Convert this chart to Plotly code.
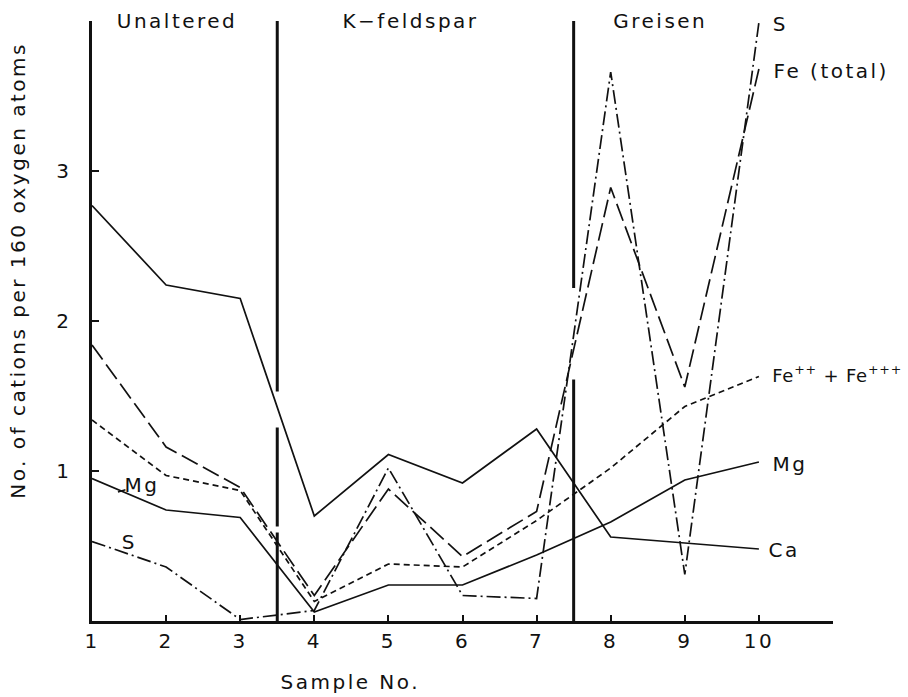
import plotly.graph_objects as go

# ---- data ----
samples = [1, 2, 3, 4, 5, 6, 7, 8, 9, 10]
ca = [2.77, 2.24, 2.15, 0.70, 1.11, 0.92, 1.28, 0.56, 0.52, 0.48]
fe_total = [1.84, 1.16, 0.89, 0.17, 0.88, 0.43, 0.73, 2.89, 1.56, 3.68]
fe_23 = [1.34, 0.97, 0.87, 0.13, 0.38, 0.36, 0.67, 1.02, 1.43, 1.63]
mg = [0.95, 0.74, 0.69, 0.06, 0.24, 0.24, 0.44, 0.66, 0.94, 1.06]
s = [0.53, 0.36, 0.01, 0.07, 1.02, 0.17, 0.15, 3.66, 0.31, 3.99]

x_ticks = [1, 2, 3, 4, 5, 6, 7, 8, 9, 10]
y_ticks = [1, 2, 3]

zone_names = ["Unaltered", "K\u2212feldspar", "Greisen"]
zone_label_x = [2.15, 5.3, 8.67]
divider_x = [3.5, 7.5]
# visible pieces of each divider (y from, y to)
divider_pieces = [
    [(0.0, 0.59), (0.63, 1.29), (1.53, 4.01)],
    [(0.0, 1.61), (2.22, 4.01)],
]

FONT = "DejaVu Sans"
BLACK = "#111111"

# plot-area geometry (pixels) used to place free text in paper coordinates
L, R, T, B, W, H = 92, 75, 21, 76, 908, 697
PW, PH = W - L - R, H - T - B


def px(xp):
    return (xp - L) / PW


def py(yp):
    return (H - B - yp) / PH


fig = go.Figure()

series = [
    ("Ca", ca, "solid"),
    ("Fe (total)", fe_total, "18px,6px"),
    ("Fe++ + Fe+++", fe_23, "6px,4px"),
    ("Mg", mg, "solid"),
    ("S", s, "14px,4px,2px,4px"),
]
for name, vals, dash in series:
    fig.add_trace(go.Scatter(
        x=samples, y=vals, mode="lines", name=name,
        line=dict(color=BLACK, width=1.7, dash=dash),
        showlegend=False, cliponaxis=False,
    ))

shapes = []
for xv, pieces in zip(divider_x, divider_pieces):
    for y0, y1 in pieces:
        shapes.append(dict(type="line", xref="x", yref="y", x0=xv, x1=xv,
                           y0=y0, y1=y1, line=dict(color=BLACK, width=3)))

tf = dict(family=FONT, size=20, color=BLACK)
annotations = []
for name, xv in zip(zone_names, zone_label_x):
    annotations.append(dict(x=xv, y=4.0, xref="x", yref="y", text=name,
                            showarrow=False, font=tf, xanchor="center", yanchor="middle"))

# right-side series labels (paper coords so they are not hidden outside the x range)
right_labels = [
    ("S", 780, 24, 20),
    ("Fe (total)", 831, 71, 20),
    ("Fe<sup>++</sup> + Fe<sup>+++</sup>", 837, 374, 18),
    ("Mg", 790, 464, 20),
    ("Ca", 784, 550, 20),
]
for txt, xp, yp, fs in right_labels:
    annotations.append(dict(x=px(xp), y=py(yp), xref="paper", yref="paper", text=txt,
                            showarrow=False, font=dict(family=FONT, size=fs, color=BLACK),
                            xanchor="center", yanchor="middle"))

# left-side labels
annotations.append(dict(x=1.35, y=0.86, xref="x", yref="y", text="Mg", font=tf,
                        showarrow=True, arrowhead=0, arrowwidth=1.5, arrowcolor=BLACK,
                        ax=24, ay=-7, xanchor="center", yanchor="middle", standoff=0))
annotations.append(dict(x=1.5, y=0.53, xref="x", yref="y", text="S",
                        showarrow=False, font=tf, xanchor="center", yanchor="middle"))

# axis titles
annotations.append(dict(x=px(350), y=py(682), xref="paper", yref="paper", text="Sample No.",
                        showarrow=False, font=tf, xanchor="center", yanchor="middle"))
annotations.append(dict(x=px(18), y=py(271), xref="paper", yref="paper",
                        text="No. of cations per 160 oxygen atoms", textangle=-90,
                        showarrow=False, font=tf, xanchor="center", yanchor="middle"))

fig.update_layout(
    width=W, height=H,
    margin=dict(l=L, r=R, t=T, b=B),
    paper_bgcolor="white", plot_bgcolor="white",
    shapes=shapes, annotations=annotations,
    font=dict(family=FONT, size=20, color=BLACK),
)
fig.update_xaxes(range=[1, 11], tickvals=x_ticks, ticktext=[str(v) for v in x_ticks],
                 ticks="inside", ticklen=6, tickwidth=1.5, tickcolor=BLACK,
                 showline=True, linewidth=3, linecolor=BLACK,
                 showgrid=False, zeroline=False, tickfont=tf)
fig.update_yaxes(range=[0, 4.0], tickvals=y_ticks, ticktext=[str(v) for v in y_ticks],
                 ticks="inside", ticklen=7, tickwidth=1.5, tickcolor=BLACK,
                 showline=True, linewidth=3, linecolor=BLACK, ticklabelstandoff=16,
                 showgrid=False, zeroline=False, tickfont=tf)

post = ("document.body.style.margin='0';"
        "document.querySelectorAll('.main-svg .annotation-text, .main-svg .xtick text')"
        ".forEach(function(t){t.style.letterSpacing="
        "(t.textContent.indexOf('+')>=0)?'0.8px':'2.5px';});")
fig.write_html("out.html", post_script=post, config={"displayModeBar": False})
